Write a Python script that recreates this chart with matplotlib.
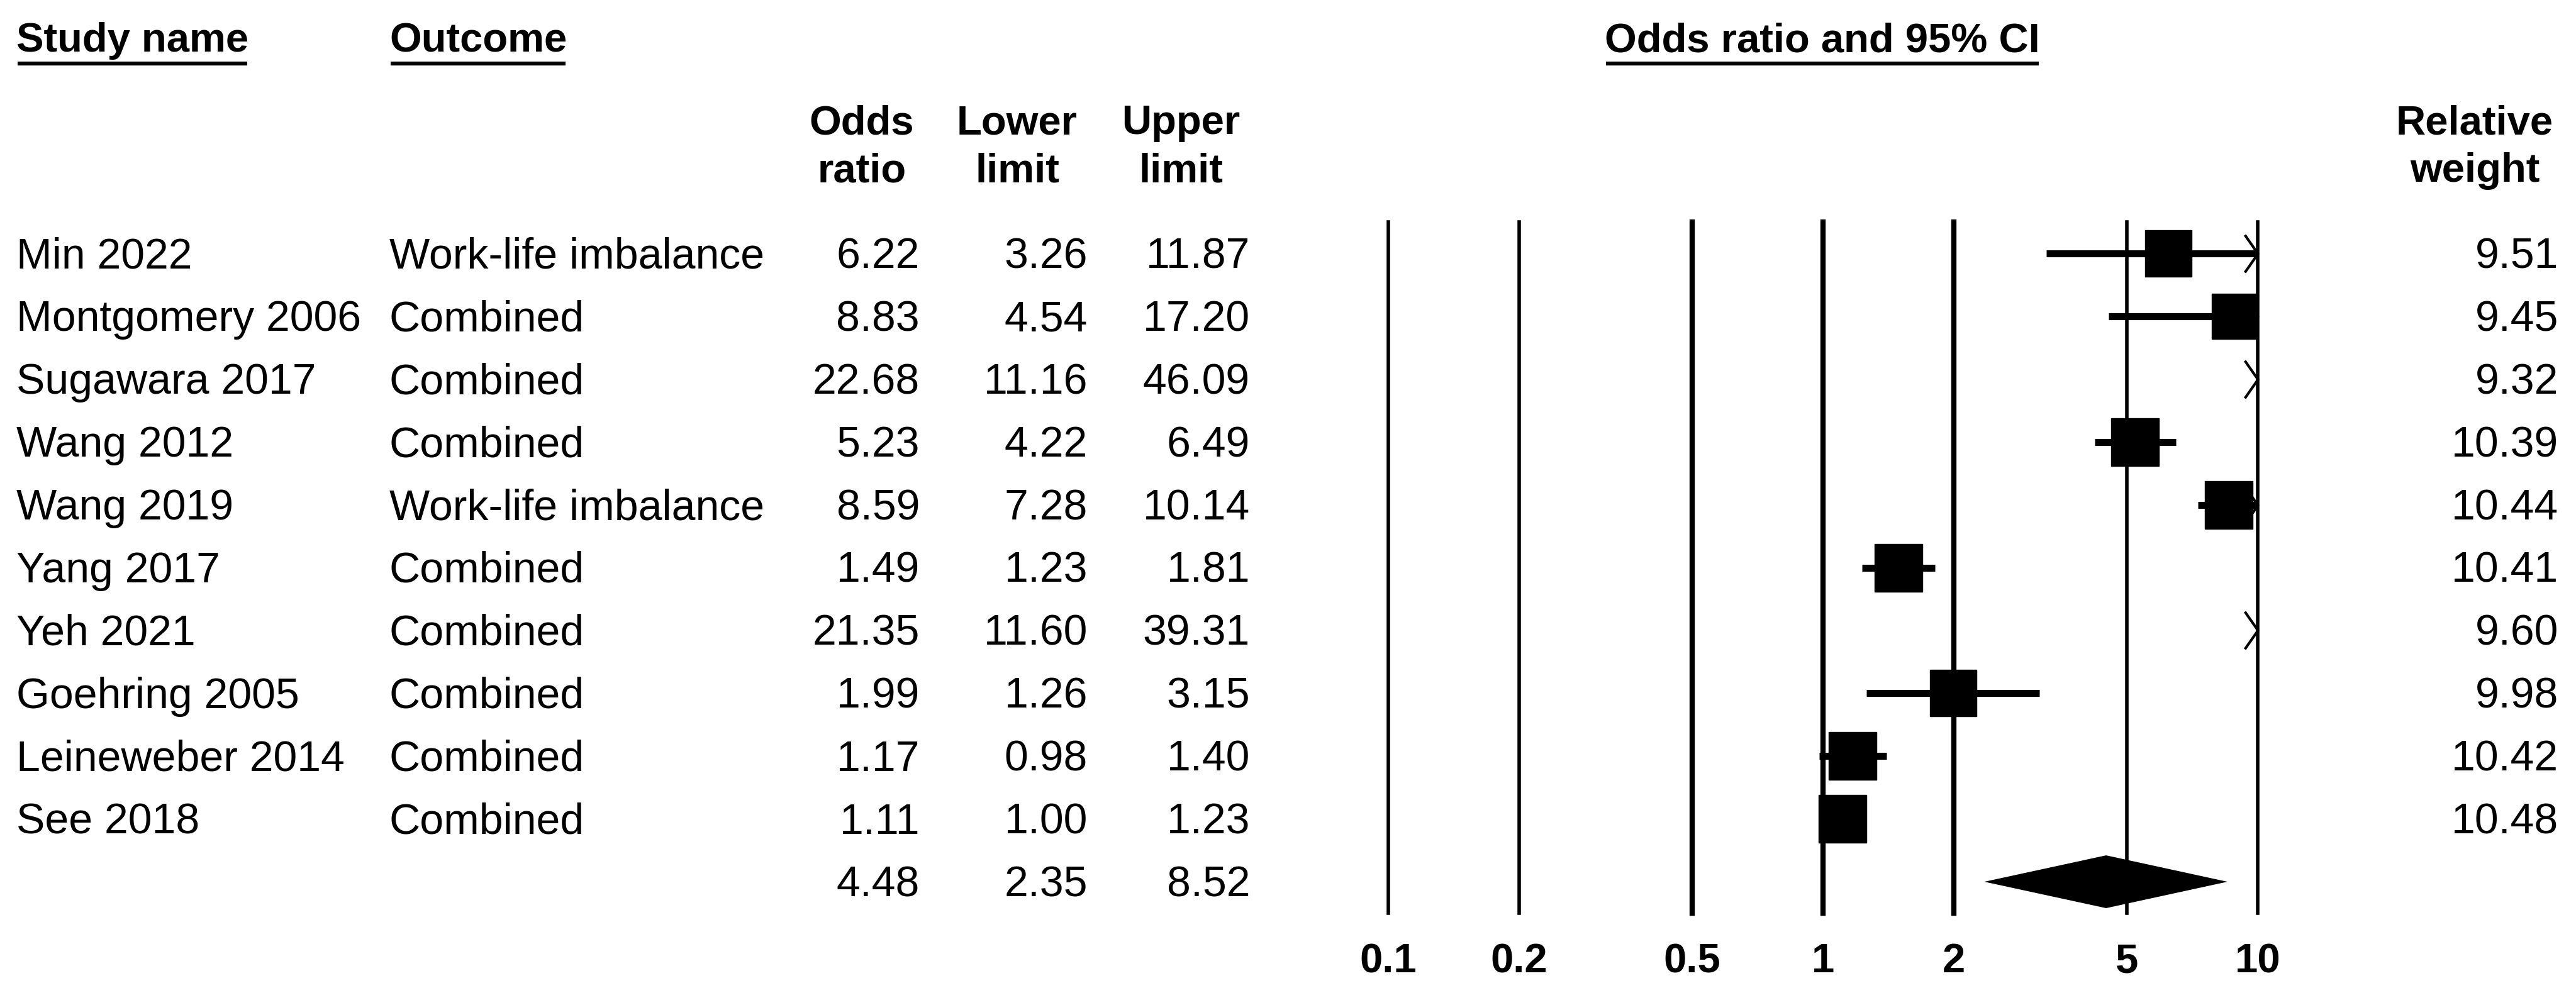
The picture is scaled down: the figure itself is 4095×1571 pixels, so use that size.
import matplotlib
matplotlib.use("Agg")
import matplotlib.pyplot as plt
from matplotlib.lines import Line2D
from matplotlib.transforms import blended_transform_factory

plt.rcParams["font.family"] = ["Liberation Sans", "DejaVu Sans"]

studies = ["Min 2022", "Montgomery 2006", "Sugawara 2017", "Wang 2012", "Wang 2019",
           "Yang 2017", "Yeh 2021", "Goehring 2005", "Leineweber 2014", "See 2018"]
outcomes = ["Work-life imbalance", "Combined", "Combined", "Combined", "Work-life imbalance",
            "Combined", "Combined", "Combined", "Combined", "Combined"]
odds = [6.22, 8.83, 22.68, 5.23, 8.59, 1.49, 21.35, 1.99, 1.17, 1.11]
lower = [3.26, 4.54, 11.16, 4.22, 7.28, 1.23, 11.60, 1.26, 0.98, 1.00]
upper = [11.87, 17.20, 46.09, 6.49, 10.14, 1.81, 39.31, 3.15, 1.40, 1.23]
weights = [9.51, 9.45, 9.32, 10.39, 10.44, 10.41, 9.60, 9.98, 10.42, 10.48]

pooled_or = 4.48
pooled_lower = 2.35
pooled_upper = 8.52

x_ticks = [0.1, 0.2, 0.5, 1, 2, 5, 10]
x_tick_labels = ["0.1", "0.2", "0.5", "1", "2", "5", "10"]

W, H = 4095, 1571
FS = 49      # body text
FS_B = 47    # bold headers
fig = plt.figure(figsize=(W / 100, H / 100), dpi=100)

# forest panel: 0.1 -> 10 spans x 2207..3589 px, rows span y 353..1452 px
ax = fig.add_axes([2207 / W, 1 - 1452 / H, (3589 - 2207) / W, (1452 - 353) / H])
ax.set_xscale("log")
ax.set_xlim(0.1, 10)
ax.set_ylim(10.5, -0.5)
for s in ax.spines.values():
    s.set_visible(False)
ax.set_yticks([])
ax.set_xticks(x_ticks)
ax.set_xticklabels(x_tick_labels, fontsize=FS_B, fontweight="bold")
ax.minorticks_off()
ax.tick_params(axis="x", length=0, pad=34)

for t in x_ticks:
    lw = 6 if t in (0.5, 1, 2) else 4
    ax.axvline(t, color="black", lw=lw, clip_on=False, zorder=1)

n = len(studies)
rows = list(range(n))

# confidence intervals
for i in rows:
    ax.plot([lower[i], upper[i]], [i, i], color="black", lw=8, solid_capstyle="butt", zorder=2)

# arrows where the interval runs past 10
arrow = [(-0.7, 1), (0, 0), (-0.7, -1)]
for i in rows:
    if upper[i] > 10:
        ax.plot([10], [i], marker=arrow, markersize=43, markerfacecolor="none",
                markeredgecolor="black", markeredgewidth=3, clip_on=False, zorder=3)

# study boxes
for i in rows:
    ms = 54 * (weights[i] / 10) ** 0.5
    ax.plot([odds[i]], [i], marker="s", markersize=ms, color="black", zorder=4)

# summary diamond
r = n
h = 0.42
ax.fill([pooled_lower, pooled_or, pooled_upper, pooled_or], [r, r - h, r, r + h],
        color="black", zorder=4, lw=0)

# text columns
tr = blended_transform_factory(fig.transFigure, ax.transData)
base = 0.235


def fx(px):
    return px / W


def row_of(px):
    return (px - 405) / 99.8


for i in rows:
    y = i + base
    ax.text(fx(26), y, studies[i], transform=tr, fontsize=FS, ha="left", va="baseline")
    ax.text(fx(619), y, outcomes[i], transform=tr, fontsize=FS, ha="left", va="baseline")
    ax.text(fx(1462), y, f"{odds[i]:.2f}", transform=tr, fontsize=FS, ha="right", va="baseline")
    ax.text(fx(1729), y, f"{lower[i]:.2f}", transform=tr, fontsize=FS, ha="right", va="baseline")
    ax.text(fx(1987), y, f"{upper[i]:.2f}", transform=tr, fontsize=FS, ha="right", va="baseline")
    ax.text(fx(4067), y, f"{weights[i]:.2f}", transform=tr, fontsize=FS, ha="right", va="baseline")

y = n + base
ax.text(fx(1462), y, f"{pooled_or:.2f}", transform=tr, fontsize=FS, ha="right", va="baseline")
ax.text(fx(1729), y, f"{pooled_lower:.2f}", transform=tr, fontsize=FS, ha="right", va="baseline")
ax.text(fx(1987), y, f"{pooled_upper:.2f}", transform=tr, fontsize=FS, ha="right", va="baseline")

# column headers
hy1 = row_of(215.5)
hy2 = row_of(291.5)
for cx, a, b in [(1370, "Odds", "ratio"), (1617, "Lower", "limit"), (1877, "Upper", "limit"),
                 (3934, "Relative", "weight")]:
    ax.text(fx(cx), hy1, a, transform=tr, fontsize=FS_B, fontweight="bold", ha="center", va="baseline")
    ax.text(fx(cx), hy2, b, transform=tr, fontsize=FS_B, fontweight="bold", ha="center", va="baseline")

# underlined top headers
top_y = row_of(84.5)
heads = [
    ax.text(fx(26), top_y, "Study name", transform=tr, fontsize=FS_B, fontweight="bold", ha="left", va="baseline"),
    ax.text(fx(619), top_y, "Outcome", transform=tr, fontsize=FS_B, fontweight="bold", ha="left", va="baseline"),
    ax.text(fx(2897), top_y, "Odds ratio and 95% CI", transform=tr, fontsize=FS_B, fontweight="bold",
            ha="center", va="baseline"),
]
fig.canvas.draw()
renderer = fig.canvas.get_renderer()
uy = 1 - 101 / H
for t in heads:
    bb = t.get_window_extent(renderer)
    fig.add_artist(Line2D([bb.x0 / W + 2 / W, bb.x1 / W - 2 / W], [uy, uy], transform=fig.transFigure,
                          color="black", lw=4.5, solid_capstyle="butt"))

fig.savefig("out.png", dpi=100, facecolor="white")
